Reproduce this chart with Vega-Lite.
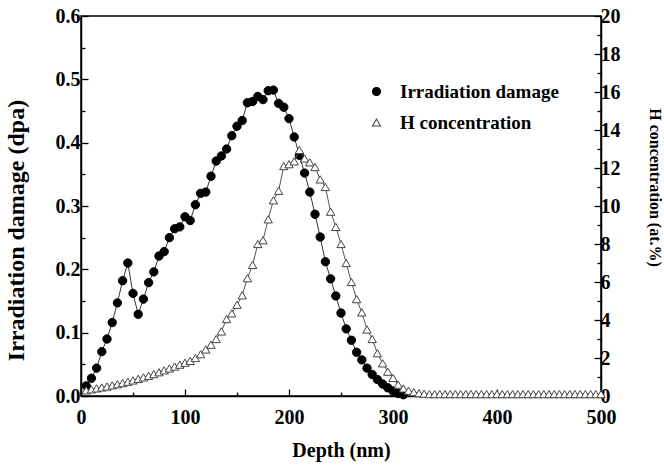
{
  "$schema": "https://vega.github.io/schema/vega-lite/v6.json",
  "width": 520,
  "height": 380,
  "autosize": "none",
  "padding": {"left": 81, "top": 16, "right": 63, "bottom": 70},
  "background": "white",
  "config": {
    "view": {"stroke": "black", "strokeWidth": 1.5},
    "font": "Liberation Serif",
    "axis": {
      "grid": false,
      "domainColor": "black",
      "domainWidth": 1.5,
      "tickColor": "black",
      "tickWidth": 1.3,
      "labelFont": "Liberation Serif",
      "labelFontWeight": "bold",
      "labelFontSize": 20,
      "labelColor": "black",
      "titleFont": "Liberation Serif",
      "titleFontWeight": "bold",
      "titleColor": "black",
      "labelPadding": 6
    },
    "legend": {
      "title": null, "orient": "none", "legendX": 286, "legendY": 66,
      "padding": 0,
      "labelFont": "Liberation Serif", "labelFontWeight": "bold", "labelFontSize": 19, "labelColor": "black",
      "labelOffset": 14, "rowPadding": 11, "symbolSize": 64, "symbolStrokeWidth": 1.1
    }
  },
  "datasets": {
    "damage": [
      {"depth": 5, "dpa": 0.016, "series": "Irradiation damage"},
      {"depth": 10, "dpa": 0.028, "series": "Irradiation damage"},
      {"depth": 15, "dpa": 0.044, "series": "Irradiation damage"},
      {"depth": 20, "dpa": 0.070, "series": "Irradiation damage"},
      {"depth": 25, "dpa": 0.090, "series": "Irradiation damage"},
      {"depth": 30, "dpa": 0.116, "series": "Irradiation damage"},
      {"depth": 35, "dpa": 0.147, "series": "Irradiation damage"},
      {"depth": 40, "dpa": 0.182, "series": "Irradiation damage"},
      {"depth": 45, "dpa": 0.210, "series": "Irradiation damage"},
      {"depth": 50, "dpa": 0.162, "series": "Irradiation damage"},
      {"depth": 55, "dpa": 0.129, "series": "Irradiation damage"},
      {"depth": 60, "dpa": 0.153, "series": "Irradiation damage"},
      {"depth": 65, "dpa": 0.179, "series": "Irradiation damage"},
      {"depth": 70, "dpa": 0.196, "series": "Irradiation damage"},
      {"depth": 75, "dpa": 0.221, "series": "Irradiation damage"},
      {"depth": 80, "dpa": 0.228, "series": "Irradiation damage"},
      {"depth": 85, "dpa": 0.250, "series": "Irradiation damage"},
      {"depth": 90, "dpa": 0.264, "series": "Irradiation damage"},
      {"depth": 95, "dpa": 0.267, "series": "Irradiation damage"},
      {"depth": 100, "dpa": 0.283, "series": "Irradiation damage"},
      {"depth": 105, "dpa": 0.277, "series": "Irradiation damage"},
      {"depth": 110, "dpa": 0.302, "series": "Irradiation damage"},
      {"depth": 115, "dpa": 0.320, "series": "Irradiation damage"},
      {"depth": 120, "dpa": 0.322, "series": "Irradiation damage"},
      {"depth": 125, "dpa": 0.347, "series": "Irradiation damage"},
      {"depth": 130, "dpa": 0.371, "series": "Irradiation damage"},
      {"depth": 135, "dpa": 0.379, "series": "Irradiation damage"},
      {"depth": 140, "dpa": 0.390, "series": "Irradiation damage"},
      {"depth": 145, "dpa": 0.411, "series": "Irradiation damage"},
      {"depth": 150, "dpa": 0.426, "series": "Irradiation damage"},
      {"depth": 155, "dpa": 0.435, "series": "Irradiation damage"},
      {"depth": 160, "dpa": 0.463, "series": "Irradiation damage"},
      {"depth": 165, "dpa": 0.465, "series": "Irradiation damage"},
      {"depth": 170, "dpa": 0.473, "series": "Irradiation damage"},
      {"depth": 175, "dpa": 0.468, "series": "Irradiation damage"},
      {"depth": 180, "dpa": 0.482, "series": "Irradiation damage"},
      {"depth": 185, "dpa": 0.483, "series": "Irradiation damage"},
      {"depth": 190, "dpa": 0.462, "series": "Irradiation damage"},
      {"depth": 195, "dpa": 0.456, "series": "Irradiation damage"},
      {"depth": 200, "dpa": 0.438, "series": "Irradiation damage"},
      {"depth": 205, "dpa": 0.409, "series": "Irradiation damage"},
      {"depth": 210, "dpa": 0.380, "series": "Irradiation damage"},
      {"depth": 215, "dpa": 0.352, "series": "Irradiation damage"},
      {"depth": 220, "dpa": 0.322, "series": "Irradiation damage"},
      {"depth": 225, "dpa": 0.287, "series": "Irradiation damage"},
      {"depth": 230, "dpa": 0.251, "series": "Irradiation damage"},
      {"depth": 235, "dpa": 0.212, "series": "Irradiation damage"},
      {"depth": 240, "dpa": 0.185, "series": "Irradiation damage"},
      {"depth": 245, "dpa": 0.158, "series": "Irradiation damage"},
      {"depth": 250, "dpa": 0.131, "series": "Irradiation damage"},
      {"depth": 255, "dpa": 0.106, "series": "Irradiation damage"},
      {"depth": 260, "dpa": 0.088, "series": "Irradiation damage"},
      {"depth": 265, "dpa": 0.069, "series": "Irradiation damage"},
      {"depth": 270, "dpa": 0.057, "series": "Irradiation damage"},
      {"depth": 275, "dpa": 0.044, "series": "Irradiation damage"},
      {"depth": 280, "dpa": 0.034, "series": "Irradiation damage"},
      {"depth": 285, "dpa": 0.026, "series": "Irradiation damage"},
      {"depth": 290, "dpa": 0.019, "series": "Irradiation damage"},
      {"depth": 295, "dpa": 0.013, "series": "Irradiation damage"},
      {"depth": 300, "dpa": 0.008, "series": "Irradiation damage"},
      {"depth": 305, "dpa": 0.004, "series": "Irradiation damage"},
      {"depth": 310, "dpa": 0.002, "series": "Irradiation damage"}
    ],
    "hconc": [
      {"depth": 5, "h": 0.30, "series": "H concentration"},
      {"depth": 10, "h": 0.35, "series": "H concentration"},
      {"depth": 15, "h": 0.40, "series": "H concentration"},
      {"depth": 20, "h": 0.45, "series": "H concentration"},
      {"depth": 25, "h": 0.50, "series": "H concentration"},
      {"depth": 30, "h": 0.56, "series": "H concentration"},
      {"depth": 35, "h": 0.62, "series": "H concentration"},
      {"depth": 40, "h": 0.68, "series": "H concentration"},
      {"depth": 45, "h": 0.75, "series": "H concentration"},
      {"depth": 50, "h": 0.82, "series": "H concentration"},
      {"depth": 55, "h": 0.90, "series": "H concentration"},
      {"depth": 60, "h": 0.98, "series": "H concentration"},
      {"depth": 65, "h": 1.06, "series": "H concentration"},
      {"depth": 70, "h": 1.15, "series": "H concentration"},
      {"depth": 75, "h": 1.25, "series": "H concentration"},
      {"depth": 80, "h": 1.35, "series": "H concentration"},
      {"depth": 85, "h": 1.45, "series": "H concentration"},
      {"depth": 90, "h": 1.55, "series": "H concentration"},
      {"depth": 95, "h": 1.65, "series": "H concentration"},
      {"depth": 100, "h": 1.75, "series": "H concentration"},
      {"depth": 105, "h": 1.85, "series": "H concentration"},
      {"depth": 110, "h": 2.0, "series": "H concentration"},
      {"depth": 115, "h": 2.2, "series": "H concentration"},
      {"depth": 120, "h": 2.45, "series": "H concentration"},
      {"depth": 125, "h": 2.7, "series": "H concentration"},
      {"depth": 130, "h": 3.0, "series": "H concentration"},
      {"depth": 135, "h": 3.4, "series": "H concentration"},
      {"depth": 140, "h": 4.05, "series": "H concentration"},
      {"depth": 145, "h": 4.35, "series": "H concentration"},
      {"depth": 150, "h": 4.8, "series": "H concentration"},
      {"depth": 155, "h": 5.3, "series": "H concentration"},
      {"depth": 160, "h": 6.2, "series": "H concentration"},
      {"depth": 165, "h": 6.9, "series": "H concentration"},
      {"depth": 170, "h": 8.0, "series": "H concentration"},
      {"depth": 175, "h": 8.2, "series": "H concentration"},
      {"depth": 180, "h": 9.3, "series": "H concentration"},
      {"depth": 185, "h": 10.3, "series": "H concentration"},
      {"depth": 190, "h": 10.8, "series": "H concentration"},
      {"depth": 195, "h": 12.1, "series": "H concentration"},
      {"depth": 200, "h": 12.2, "series": "H concentration"},
      {"depth": 205, "h": 12.35, "series": "H concentration"},
      {"depth": 210, "h": 12.95, "series": "H concentration"},
      {"depth": 215, "h": 12.5, "series": "H concentration"},
      {"depth": 220, "h": 12.3, "series": "H concentration"},
      {"depth": 225, "h": 12.05, "series": "H concentration"},
      {"depth": 230, "h": 11.4, "series": "H concentration"},
      {"depth": 235, "h": 11.0, "series": "H concentration"},
      {"depth": 240, "h": 9.7, "series": "H concentration"},
      {"depth": 245, "h": 8.9, "series": "H concentration"},
      {"depth": 250, "h": 8.0, "series": "H concentration"},
      {"depth": 255, "h": 7.0, "series": "H concentration"},
      {"depth": 260, "h": 6.0, "series": "H concentration"},
      {"depth": 265, "h": 5.1, "series": "H concentration"},
      {"depth": 270, "h": 4.4, "series": "H concentration"},
      {"depth": 275, "h": 3.5, "series": "H concentration"},
      {"depth": 280, "h": 3.0, "series": "H concentration"},
      {"depth": 285, "h": 2.25, "series": "H concentration"},
      {"depth": 290, "h": 1.72, "series": "H concentration"},
      {"depth": 295, "h": 1.28, "series": "H concentration"},
      {"depth": 300, "h": 0.95, "series": "H concentration"},
      {"depth": 305, "h": 0.6, "series": "H concentration"},
      {"depth": 310, "h": 0.4, "series": "H concentration"},
      {"depth": 315, "h": 0.28, "series": "H concentration"},
      {"depth": 320, "h": 0.2, "series": "H concentration"},
      {"depth": 325, "h": 0.15, "series": "H concentration"},
      {"depth": 330, "h": 0.12, "series": "H concentration"},
      {"depth": 335, "h": 0.1, "series": "H concentration"},
      {"depth": 340, "h": 0.1, "series": "H concentration"},
      {"depth": 345, "h": 0.1, "series": "H concentration"},
      {"depth": 350, "h": 0.1, "series": "H concentration"},
      {"depth": 355, "h": 0.1, "series": "H concentration"},
      {"depth": 360, "h": 0.1, "series": "H concentration"},
      {"depth": 365, "h": 0.1, "series": "H concentration"},
      {"depth": 370, "h": 0.1, "series": "H concentration"},
      {"depth": 375, "h": 0.1, "series": "H concentration"},
      {"depth": 380, "h": 0.1, "series": "H concentration"},
      {"depth": 385, "h": 0.1, "series": "H concentration"},
      {"depth": 390, "h": 0.1, "series": "H concentration"},
      {"depth": 395, "h": 0.1, "series": "H concentration"},
      {"depth": 400, "h": 0.1, "series": "H concentration"},
      {"depth": 405, "h": 0.1, "series": "H concentration"},
      {"depth": 410, "h": 0.1, "series": "H concentration"},
      {"depth": 415, "h": 0.1, "series": "H concentration"},
      {"depth": 420, "h": 0.1, "series": "H concentration"},
      {"depth": 425, "h": 0.1, "series": "H concentration"},
      {"depth": 430, "h": 0.1, "series": "H concentration"},
      {"depth": 435, "h": 0.1, "series": "H concentration"},
      {"depth": 440, "h": 0.1, "series": "H concentration"},
      {"depth": 445, "h": 0.1, "series": "H concentration"},
      {"depth": 450, "h": 0.1, "series": "H concentration"},
      {"depth": 455, "h": 0.1, "series": "H concentration"},
      {"depth": 460, "h": 0.1, "series": "H concentration"},
      {"depth": 465, "h": 0.1, "series": "H concentration"},
      {"depth": 470, "h": 0.1, "series": "H concentration"},
      {"depth": 475, "h": 0.1, "series": "H concentration"},
      {"depth": 480, "h": 0.1, "series": "H concentration"},
      {"depth": 485, "h": 0.1, "series": "H concentration"},
      {"depth": 490, "h": 0.1, "series": "H concentration"},
      {"depth": 495, "h": 0.1, "series": "H concentration"},
      {"depth": 500, "h": 0.1, "series": "H concentration"}
    ]
  },
  "layer": [
    {
      "data": {"name": "damage"},
      "encoding": {
        "x": {
          "field": "depth", "type": "quantitative",
          "scale": {"domain": [0, 500], "nice": false},
          "axis": {
            "title": "Depth (nm)", "titleFontSize": 20, "titlePadding": 13,
            "values": [0, 50, 100, 150, 200, 250, 300, 350, 400, 450, 500],
            "labelExpr": "datum.value % 100 == 0 ? datum.label : ''",
            "tickSize": {"condition": {"test": "datum.value % 100 == 0", "value": -7}, "value": -4},
            "labelPadding": 18,
            "labelFlush": false
          }
        },
        "y": {
          "field": "dpa", "type": "quantitative",
          "scale": {"domain": [0, 0.6], "nice": false},
          "axis": {
            "orient": "left",
            "title": "Irradiation damage (dpa)", "titleFontSize": 24, "titlePadding": 27,
            "titleY": 214,
            "values": [0, 0.05, 0.1, 0.15, 0.2, 0.25, 0.3, 0.35, 0.4, 0.45, 0.5, 0.55, 0.6],
            "labelExpr": "round(datum.value * 100) % 10 == 0 ? format(datum.value, '.1f') : ''",
            "tickSize": {"condition": {"test": "round(datum.value * 100) % 10 == 0", "value": -7}, "value": -4},
            "labelPadding": 8,
            "labelFlush": false
          }
        }
      },
      "layer": [
        {"mark": {"type": "line", "color": "#333333", "strokeWidth": 1}},
        {
          "mark": {"type": "point", "filled": true, "size": 70, "opacity": 1, "strokeWidth": 1},
          "encoding": {
            "shape": {
              "field": "series", "type": "nominal",
              "scale": {"domain": ["Irradiation damage", "H concentration"], "range": ["circle", "triangle-up"]}
            },
            "fill": {
              "field": "series", "type": "nominal",
              "scale": {"domain": ["Irradiation damage", "H concentration"], "range": ["black", "white"]}
            },
            "stroke": {
              "field": "series", "type": "nominal",
              "scale": {"domain": ["Irradiation damage", "H concentration"], "range": ["black", "#444444"]}
            }
          }
        }
      ]
    },
    {
      "data": {"name": "hconc"},
      "encoding": {
        "x": {"field": "depth", "type": "quantitative"},
        "y": {
          "field": "h", "type": "quantitative",
          "scale": {"domain": [0, 20], "nice": false},
          "axis": {
            "orient": "right",
            "title": "H concentration (at.%)", "titleFontSize": 16, "titlePadding": 26,
            "titleY": 171,
            "values": [0, 1, 2, 3, 4, 5, 6, 7, 8, 9, 10, 11, 12, 13, 14, 15, 16, 17, 18, 19, 20],
            "labelExpr": "datum.value % 2 == 0 ? datum.label : ''",
            "tickSize": {"condition": {"test": "datum.value % 2 == 0", "value": -7}, "value": -4},
            "labelPadding": 6,
            "labelFlush": false
          }
        }
      },
      "layer": [
        {"mark": {"type": "line", "color": "#555555", "strokeWidth": 1}},
        {
          "mark": {"type": "point", "filled": true, "size": 70, "opacity": 1, "strokeWidth": 1},
          "encoding": {
            "shape": {"field": "series", "type": "nominal"},
            "fill": {"field": "series", "type": "nominal"},
            "stroke": {"field": "series", "type": "nominal"}
          }
        }
      ]
    }
  ],
  "resolve": {"scale": {"y": "independent"}}
}
